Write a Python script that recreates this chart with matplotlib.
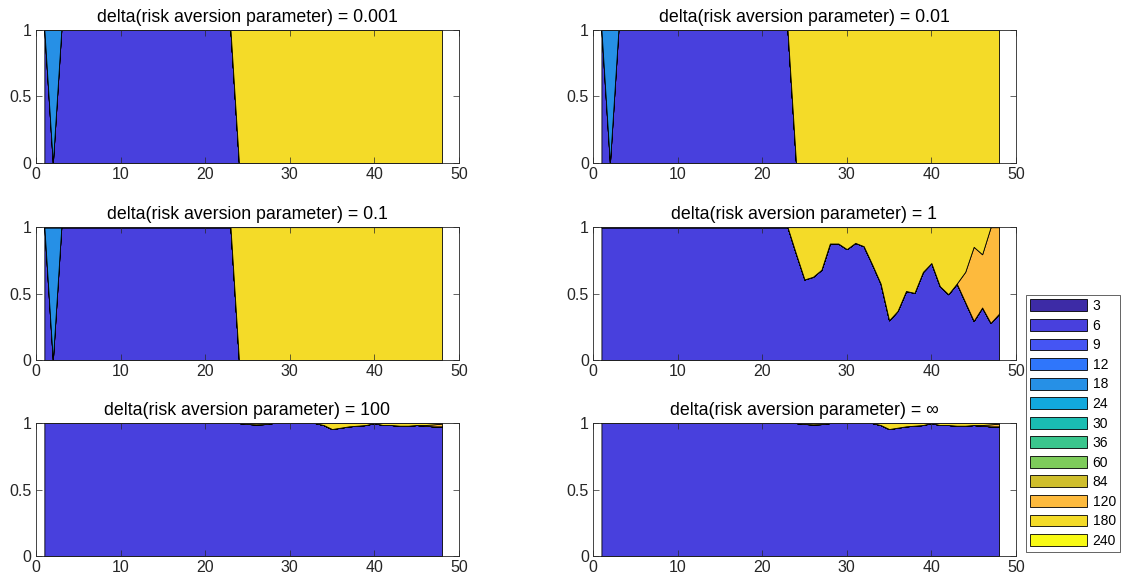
import numpy as np
import matplotlib
matplotlib.use('Agg')
import matplotlib.pyplot as plt
from matplotlib.patches import Patch

plt.rcParams['font.family'] = ['Liberation Sans', 'DejaVu Sans']

# maturities (months) and their area colours
maturities = [3, 6, 9, 12, 18, 24, 30, 36, 60, 84, 120, 180, 240]
mat_colors = ['#3d2ba6', '#4840dd', '#4555f3', '#2f76fb', '#2690e6', '#12a9dd',
              '#1abdb2', '#3ac68d', '#7ecc5b', '#cfbe2c', '#fdba3d', '#f4db28',
              '#f8fa14']
months = np.arange(1, 49)

panel_titles = ['delta(risk aversion parameter) = 0.001',
                'delta(risk aversion parameter) = 0.01',
                'delta(risk aversion parameter) = 0.1',
                'delta(risk aversion parameter) = 1',
                'delta(risk aversion parameter) = 100',
                'delta(risk aversion parameter) = \u221e']

# small delta: all in 6m except month 2 (18m) and months 24+ (180m)
low_m6 = [1, 0, 1, 1, 1, 1, 1, 1, 1, 1, 1, 1, 1, 1, 1, 1, 1, 1, 1, 1, 1, 1, 1,
          0, 0, 0, 0, 0, 0, 0, 0, 0, 0, 0, 0, 0, 0, 0, 0, 0, 0, 0, 0, 0, 0, 0, 0, 0]
low_m18 = [0, 1, 0, 0, 0, 0, 0, 0, 0, 0, 0, 0, 0, 0, 0, 0, 0, 0, 0, 0, 0, 0, 0,
           0, 0, 0, 0, 0, 0, 0, 0, 0, 0, 0, 0, 0, 0, 0, 0, 0, 0, 0, 0, 0, 0, 0, 0, 0]
low_m180 = [0, 0, 0, 0, 0, 0, 0, 0, 0, 0, 0, 0, 0, 0, 0, 0, 0, 0, 0, 0, 0, 0, 0,
            1, 1, 1, 1, 1, 1, 1, 1, 1, 1, 1, 1, 1, 1, 1, 1, 1, 1, 1, 1, 1, 1, 1, 1, 1]

# delta = 1
d1_m6 = [1, 1, 1, 1, 1, 1, 1, 1, 1, 1, 1, 1, 1, 1, 1, 1, 1, 1, 1, 1, 1, 1, 1,
         0.80, 0.607, 0.627, 0.68, 0.877, 0.877, 0.835, 0.882, 0.857, 0.72,
         0.576, 0.30, 0.37, 0.52, 0.506, 0.664, 0.73, 0.556, 0.496, 0.576,
         0.436, 0.296, 0.396, 0.28, 0.35]
d1_m120 = [0, 0, 0, 0, 0, 0, 0, 0, 0, 0, 0, 0, 0, 0, 0, 0, 0, 0, 0, 0, 0, 0, 0,
           0, 0, 0, 0, 0, 0, 0, 0, 0, 0, 0, 0, 0, 0, 0, 0, 0, 0, 0, 0,
           0.228, 0.556, 0.40, 0.72, 0.65]
d1_m180 = [0, 0, 0, 0, 0, 0, 0, 0, 0, 0, 0, 0, 0, 0, 0, 0, 0, 0, 0, 0, 0, 0, 0,
           0.20, 0.393, 0.373, 0.32, 0.123, 0.123, 0.165, 0.118, 0.143, 0.28,
           0.424, 0.70, 0.63, 0.48, 0.494, 0.336, 0.27, 0.444, 0.504, 0.424,
           0.336, 0.148, 0.204, 0.0, 0.0]

# delta = 100 and delta = inf
hi_m6 = [1, 1, 1, 1, 1, 1, 1, 1, 1, 1, 1, 1, 1, 1, 1, 1, 1, 1, 1, 1, 1, 1, 1,
         1.0, 0.993, 0.99, 0.992, 1.0, 1.0, 1.0, 1.0, 1.0, 1.0, 0.985, 0.955,
         0.965, 0.975, 0.98, 0.985, 1.0, 0.985, 0.985, 0.98, 0.98, 0.985,
         0.98, 0.975, 0.975]
hi_m120 = [0, 0, 0, 0, 0, 0, 0, 0, 0, 0, 0, 0, 0, 0, 0, 0, 0, 0, 0, 0, 0, 0, 0,
           0, 0, 0, 0, 0, 0, 0, 0, 0, 0, 0, 0, 0, 0, 0, 0, 0, 0, 0, 0,
           0, 0, 0.005, 0.015, 0.02]
hi_m180 = [0, 0, 0, 0, 0, 0, 0, 0, 0, 0, 0, 0, 0, 0, 0, 0, 0, 0, 0, 0, 0, 0, 0,
           0.0, 0.007, 0.01, 0.008, 0.0, 0.0, 0.0, 0.0, 0.0, 0.0, 0.015, 0.045,
           0.035, 0.025, 0.02, 0.015, 0.0, 0.015, 0.015, 0.02, 0.02, 0.015,
           0.015, 0.01, 0.005]

panel_shares = [
    {6: low_m6, 18: low_m18, 180: low_m180},
    {6: low_m6, 18: low_m18, 180: low_m180},
    {6: low_m6, 18: low_m18, 180: low_m180},
    {6: d1_m6, 120: d1_m120, 180: d1_m180},
    {6: hi_m6, 120: hi_m120, 180: hi_m180},
    {6: hi_m6, 120: hi_m120, 180: hi_m180},
]

fig = plt.figure(figsize=(11.22, 5.79), dpi=100)
lefts = [0.032, 0.5285]
bottoms = [0.7185, 0.378, 0.0397]
w, h = 0.377, 0.2297
axc = '#262626'

for i, shares in enumerate(panel_shares):
    r, c = divmod(i, 2)
    ax = fig.add_axes([lefts[c], bottoms[r], w, h])
    ys = [np.array(shares.get(m, np.zeros(len(months))), dtype=float)
          for m in maturities]
    ax.stackplot(months, ys, colors=mat_colors, edgecolor='black',
                 linewidth=0.6)
    ax.set_xlim(0, 50)
    ax.set_ylim(0, 1)
    ax.set_xticks([0, 10, 20, 30, 40, 50])
    ax.set_yticks([0, 0.5, 1])
    ax.set_yticklabels(['0', '0.5', '1'])
    ax.tick_params(direction='in', top=True, right=True, length=4,
                   width=0.5, labelsize=11.5, colors=axc, pad=3)
    for s in ax.spines.values():
        s.set_linewidth(0.6)
        s.set_color(axc)
    ax.set_title(panel_titles[i], fontsize=12.8, pad=6)

handles = [Patch(facecolor=col, edgecolor='black', linewidth=0.6)
           for col in mat_colors]
leg = fig.legend(handles, [str(m) for m in maturities], loc='upper left',
                 bbox_to_anchor=(0.9144, 0.4905), borderaxespad=0,
                 fontsize=10, handlelength=4.1, handleheight=0.95,
                 labelspacing=0.4, handletextpad=0.4, borderpad=0.3,
                 fancybox=False, framealpha=1)
leg.get_frame().set_edgecolor('#262626')
leg.get_frame().set_linewidth(0.5)

fig.savefig('out.png', dpi=100)
